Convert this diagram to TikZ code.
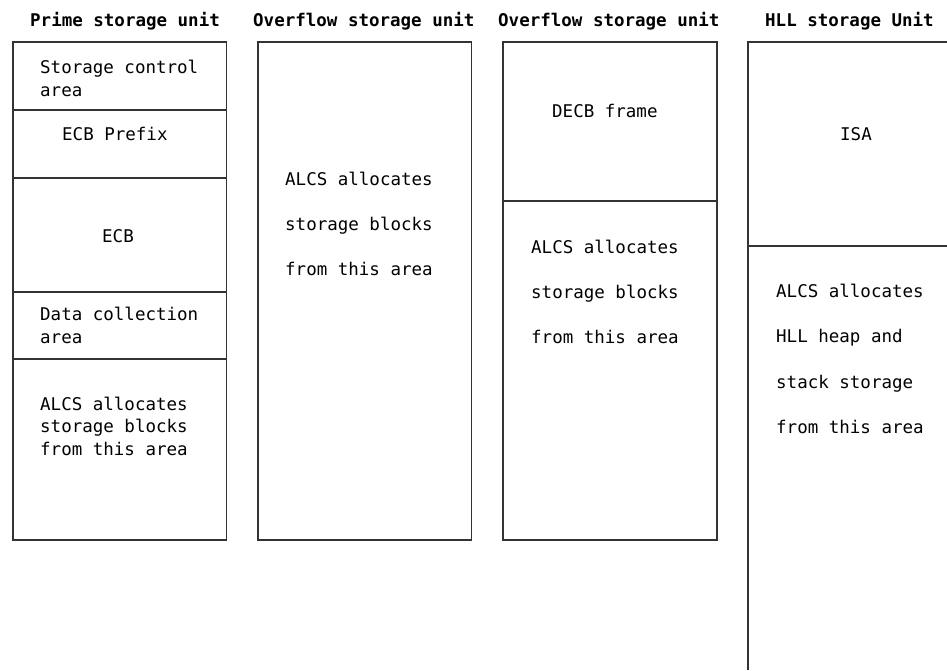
\documentclass[tikz,border=0pt]{standalone}
\usepackage{fontspec}
\setmonofont{DejaVu Sans Mono}
\begin{document}
\begin{tikzpicture}[x=1pt,y=-1pt,
  boxline/.style={draw=black!80,line width=1.2pt},
  lbl/.style={anchor=base west,inner sep=0pt,font=\fontsize{17.5}{20}\ttfamily},
  hdr/.style={anchor=base west,inner sep=0pt,font=\fontsize{17.5}{20}\ttfamily\bfseries}]
\useasboundingbox (0,0) rectangle (947,670);
% headers
\node[hdr] (h1) at (30,26) {Prime storage unit};
\node[hdr] (h2) at (253,26) {Overflow storage unit};
\node[hdr] (h3) at (498,26) {Overflow storage unit};
\node[hdr] (h4) at (765,26) {HLL storage Unit};
% column 1
\draw[boxline] (13,42) rectangle (226.5,540);
\draw[boxline] (13,110) -- (226.5,110);
\draw[boxline] (13,178) -- (226.5,178);
\draw[boxline] (13,292) -- (226.5,292);
\draw[boxline] (13,359) -- (226.5,359);
\node[lbl] (a1) at (40,73) {Storage control};
\node[lbl] (a2) at (40,96) {area};
\node[lbl] (a3) at (62,140) {ECB Prefix};
\node[lbl] (a4) at (102,242) {ECB};
\node[lbl] (a5) at (40,320) {Data collection};
\node[lbl] (a6) at (40,343) {area};
\node[lbl] (a7) at (40,410) {ALCS allocates};
\node[lbl] (a8) at (40,432) {storage blocks};
\node[lbl] (a9) at (40,455) {from this area};
% column 2
\draw[boxline] (258,42) rectangle (471.5,540);
\node[lbl] (b1) at (285,185) {ALCS allocates};
\node[lbl] (b2) at (285,230) {storage blocks};
\node[lbl] (b3) at (285,275) {from this area};
% column 3
\draw[boxline] (503,42) rectangle (717,540);
\draw[boxline] (503,201) -- (717,201);
\node[lbl] (c0) at (552,117) {DECB frame};
\node[lbl] (c1) at (531,253) {ALCS allocates};
\node[lbl] (c2) at (531,298) {storage blocks};
\node[lbl] (c3) at (531,343) {from this area};
% column 4
\draw[boxline] (947,42) -- (748,42) -- (748,670);
\draw[boxline] (748,246) -- (947,246);
\node[lbl] (d0) at (840,140) {ISA};
\node[lbl] (d1) at (776,297) {ALCS allocates};
\node[lbl] (d2) at (776,342) {HLL heap and};
\node[lbl] (d3) at (776,388) {stack storage};
\node[lbl] (d4) at (776,433) {from this area};
\end{tikzpicture}
\end{document}
